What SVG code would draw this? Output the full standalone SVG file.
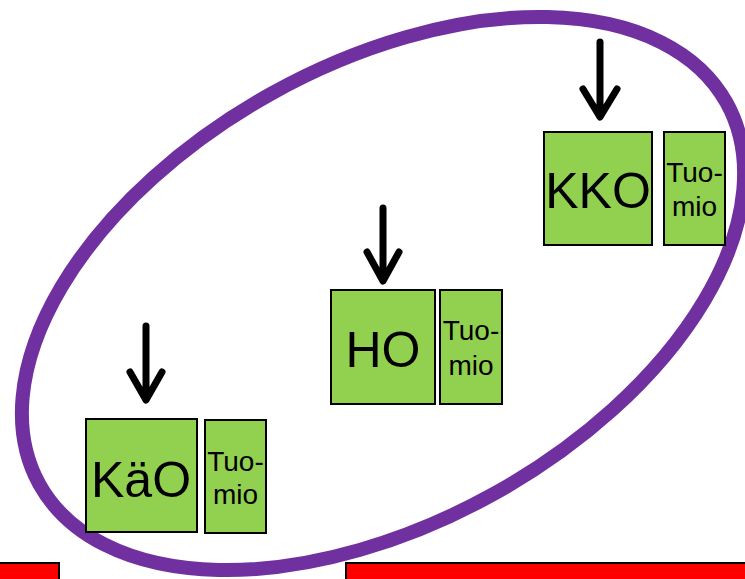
<svg xmlns="http://www.w3.org/2000/svg" width="745" height="579" viewBox="0 0 745 579">
<defs>
<style>
.box{fill:#92D050;stroke:#000;stroke-width:2}
.red{fill:#FF0000;stroke:#000;stroke-width:2}
.big{font-family:"Liberation Sans",Arial,sans-serif;font-size:50px;fill:#000;text-anchor:middle}
.sm{font-family:"Liberation Sans",Arial,sans-serif;font-size:28px;fill:#000;text-anchor:middle}
.arr{fill:none;stroke:#000;stroke-width:7;stroke-linecap:round;stroke-linejoin:round}
</style>
</defs>
<rect width="745" height="579" fill="#fff"/>
<ellipse id="ring" cx="383" cy="293.5" rx="393" ry="229" transform="rotate(-29.05 383 293.5)" fill="none" stroke="#7030A0" stroke-width="14"/>
<g id="connectors">
<path class="arr" d="M146 326V399M130 372L146 400L162 372"/>
<path class="arr" d="M383 208V279M367 252L383 281L399 252"/>
<path class="arr" d="M600 42V116M583 89L600 117L617 89"/>
</g>
<g id="kao">
<rect class="box" x="86" y="419" width="111" height="113"/>
<text class="big" x="141" y="497">KäO</text>
</g>
<g id="kao-tuomio">
<rect class="box" x="205" y="420" width="61" height="113"/>
<text class="sm" x="235.5" y="471">Tuo-</text>
<text class="sm" x="235.5" y="504">mio</text>
</g>
<g id="ho">
<rect class="box" x="331" y="290" width="104" height="114"/>
<text class="big" x="383" y="367">HO</text>
</g>
<g id="ho-tuomio">
<rect class="box" x="440" y="290" width="62" height="114"/>
<text class="sm" x="471" y="340">Tuo-</text>
<text class="sm" x="471" y="375">mio</text>
</g>
<g id="kko">
<rect class="box" x="544" y="132" width="108" height="113"/>
<text class="big" x="598" y="208">KKO</text>
</g>
<g id="kko-tuomio">
<rect class="box" x="664" y="132" width="61" height="113"/>
<text class="sm" x="694.5" y="182">Tuo-</text>
<text class="sm" x="694.5" y="216">mio</text>
</g>
<g id="red-left">
<rect class="red" x="-5" y="563" width="64" height="30"/>
</g>
<g id="red-right">
<rect class="red" x="346" y="563" width="410" height="30"/>
</g>
</svg>
